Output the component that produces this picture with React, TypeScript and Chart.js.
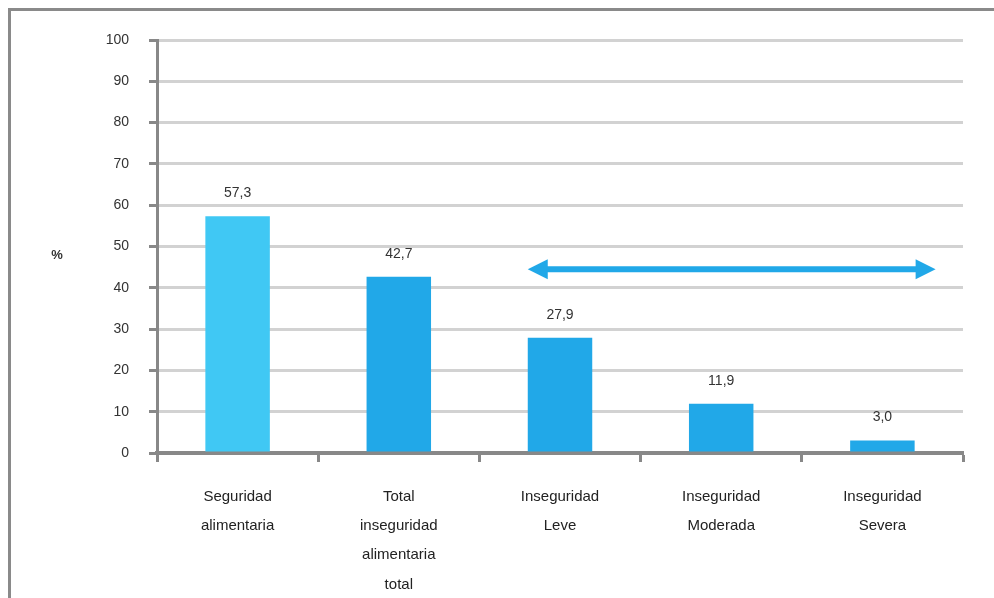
import React, { useEffect, useRef } from "react";
import { Chart, registerables } from "chart.js";

Chart.register(...registerables);

const categories: string[][] = [
  ["Seguridad", "alimentaria"],
  ["Total", "inseguridad", "alimentaria", "total"],
  ["Inseguridad", "Leve"],
  ["Inseguridad", "Moderada"],
  ["Inseguridad", "Severa"],
];
const values: number[] = [57.3, 42.7, 27.9, 11.9, 3.0];
const valueLabels: string[] = ["57,3", "42,7", "27,9", "11,9", "3,0"];
const barColors: string[] = ["#40C8F4", "#21A8E8", "#21A8E8", "#21A8E8", "#21A8E8"];
const yTicks: number[] = [0, 10, 20, 30, 40, 50, 60, 70, 80, 90, 100];
const yTitle = "%";
const arrowLevel = 44.5;

const decorPlugin = {
  id: "decor",
  beforeDraw(chart: any) {
    const ctx = chart.ctx;
    ctx.save();
    ctx.fillStyle = "#ffffff";
    ctx.fillRect(0, 0, chart.width, chart.height);
    ctx.strokeStyle = "#8a8a8a";
    ctx.lineWidth = 3;
    ctx.beginPath();
    ctx.moveTo(9.5, chart.height);
    ctx.lineTo(9.5, 9.5);
    ctx.lineTo(chart.width, 9.5);
    ctx.stroke();
    ctx.restore();
  },
  afterDatasetsDraw(chart: any) {
    const ctx = chart.ctx;
    const meta = chart.getDatasetMeta(0);
    const x = chart.scales.x;
    const y = chart.scales.y;
    ctx.save();
    ctx.fillStyle = "#333333";
    ctx.font = "14px 'Liberation Sans', Arial, sans-serif";
    ctx.textAlign = "center";
    ctx.textBaseline = "middle";
    meta.data.forEach((bar: any, i: number) => {
      ctx.fillText(valueLabels[i], bar.x, bar.y - 23);
    });
    // % title
    ctx.font = "bold 13px 'Liberation Sans', Arial, sans-serif";
    ctx.fillText(yTitle, 57, y.getPixelForValue(47.8));
    // arrow
    const cw = x.getPixelForValue(1) - x.getPixelForValue(0);
    const ay = y.getPixelForValue(arrowLevel);
    const x1 = x.getPixelForValue(2) - 0.2 * cw;
    const x2 = x.getPixelForValue(4) + 0.33 * cw;
    const head = 20;
    const hh = 10;
    ctx.fillStyle = "#21A8E8";
    ctx.strokeStyle = "#21A8E8";
    ctx.lineWidth = 6;
    ctx.beginPath();
    ctx.moveTo(x1 + head - 2, ay);
    ctx.lineTo(x2 - head + 2, ay);
    ctx.stroke();
    ctx.beginPath();
    ctx.moveTo(x1, ay);
    ctx.lineTo(x1 + head, ay - hh);
    ctx.lineTo(x1 + head, ay + hh);
    ctx.closePath();
    ctx.fill();
    ctx.beginPath();
    ctx.moveTo(x2, ay);
    ctx.lineTo(x2 - head, ay - hh);
    ctx.lineTo(x2 - head, ay + hh);
    ctx.closePath();
    ctx.fill();
    ctx.restore();
  },
};

export default function App() {
  const ref = useRef<HTMLCanvasElement | null>(null);
  useEffect(() => {
    if (!ref.current) return;
    const chart = new Chart(ref.current, {
      type: "bar",
      data: {
        labels: categories,
        datasets: [
          {
            data: values,
            backgroundColor: barColors,
            borderWidth: 0,
            barPercentage: 0.4,
            categoryPercentage: 1,
          },
        ],
      },
      options: {
        animation: false,
        responsive: false,
        devicePixelRatio: 1,
        layout: { padding: { left: 0, right: 31, top: 40, bottom: 0 } },
        plugins: { legend: { display: false }, tooltip: { enabled: false } },
        scales: {
          x: {
            grid: {
              display: true,
              offset: true,
              drawOnChartArea: false,
              drawTicks: true,
              tickLength: 9,
              tickColor: "#888888",
              tickWidth: 3,
            },
            border: { display: true, color: "#888888", width: 4 },
            ticks: {
              color: "#222222",
              font: { family: "'Liberation Sans', Arial, sans-serif", size: 15, lineHeight: 1.95 },
              padding: 20,
              maxRotation: 0,
              autoSkip: false,
            },
            afterFit: (s: any) => {
              s.height = 145;
            },
          },
          y: {
            min: 0,
            max: 100,
            afterBuildTicks: (s: any) => {
              s.ticks = yTicks.map((v) => ({ value: v }));
            },
            grid: {
              color: "#d2d2d2",
              lineWidth: 3,
              tickLength: 8,
              tickColor: "#888888",
              tickWidth: 3,
            },
            border: { display: true, color: "#888888", width: 3 },
            ticks: {
              color: "#333333",
              font: { family: "'Liberation Sans', Arial, sans-serif", size: 14 },
              padding: 20,
            },
            afterFit: (s: any) => {
              s.width = 157;
            },
          },
        },
      },
      plugins: [decorPlugin],
    });
    return () => chart.destroy();
  }, []);
  return (
    <div style={{ position: "fixed", left: 0, top: 0, width: 994, height: 598 }}>
      <canvas ref={ref} width={994} height={598} style={{ width: 994, height: 598, display: "block" }} />
    </div>
  );
}
